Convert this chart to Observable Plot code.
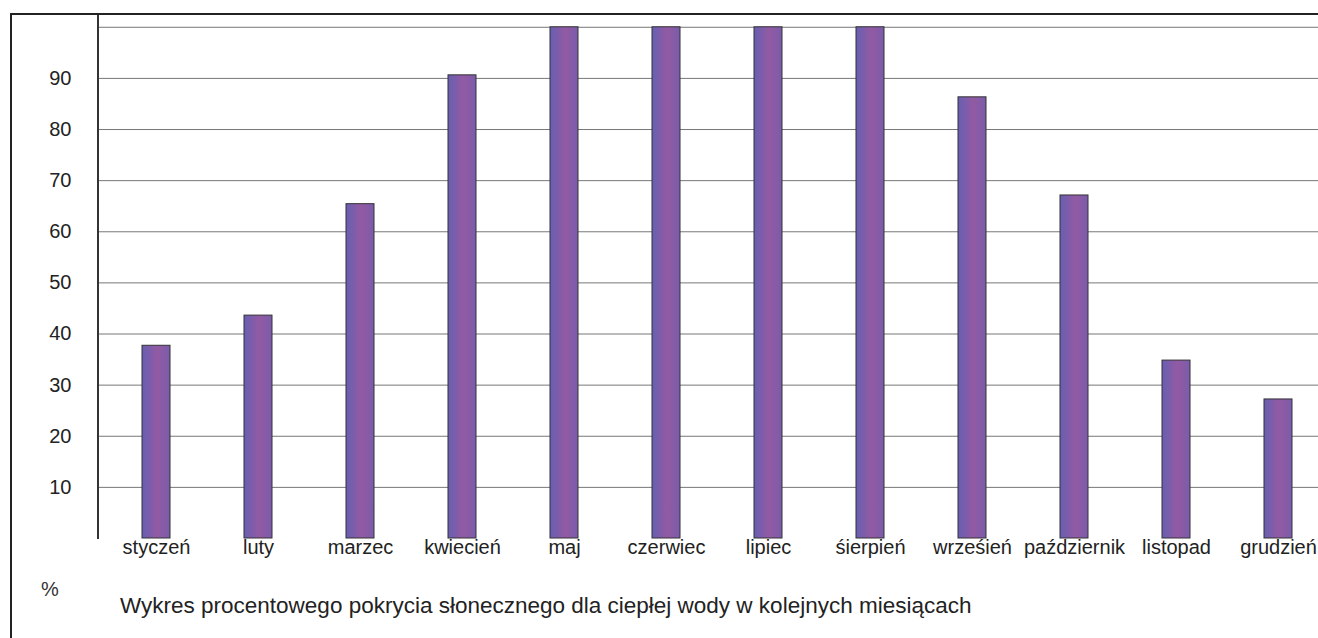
<!DOCTYPE html>
<html>
<head>
<meta charset="utf-8">
<script src="https://cdn.jsdelivr.net/npm/d3@7"></script>
<script src="https://cdn.jsdelivr.net/npm/@observablehq/plot@0.6"></script>
<style>
  html, body { margin: 0; padding: 0; background: #fff; }
  #wrap { position: relative; width: 1318px; height: 638px; overflow: hidden; font-family: "Liberation Sans", Arial, sans-serif; }
  #frameL { position: absolute; left: 10px; top: 14px; width: 2px; height: 624px; background: #222; }
  #frameT { position: absolute; left: 10px; top: 13px; width: 1308px; height: 2px; background: #222; }
  #pct { position: absolute; left: 41px; top: 578px; font-size: 20px; color: #333; }
  #title { position: absolute; left: 120px; top: 593px; font-size: 22.5px; color: #222; white-space: nowrap; }
  #chart svg text { font-size: 20px; fill: #222; }
</style>
</head>
<body>
<div id="wrap">
  <div id="chart"></div>
  <div id="frameL"></div>
  <div id="frameT"></div>
  <div id="pct">%</div>
  <div id="title">Wykres procentowego pokrycia słonecznego dla ciepłej wody w kolejnych miesiącach</div>
</div>
<script>
const months = ["styczeń", "luty", "marzec", "kwiecień", "maj", "czerwiec", "lipiec", "śierpień", "wrześień", "październik", "listopad", "grudzień"];
const values = [37.7, 43.6, 65.4, 90.6, 100, 100, 100, 100, 86.3, 67.1, 34.8, 27.2];
const gridTicks = [10, 20, 30, 40, 50, 60, 70, 80, 90, 100];
const labelTicks = [10, 20, 30, 40, 50, 60, 70, 80, 90];

const data = months.map((m, i) => ({month: m, value: values[i]}));

const chart = Plot.plot({
  width: 1318,
  height: 638,
  marginTop: 14,
  marginBottom: 100,
  marginLeft: 98,
  marginRight: 0,
  style: {fontFamily: "Liberation Sans, Arial, sans-serif", fontSize: "20px", color: "#222", background: "transparent"},
  x: {domain: months, range: [102, 1332], paddingInner: 0.73, paddingOuter: 0.365, label: null},
  y: {domain: [0, 102.5], label: null},
  marks: [
    () => {
      const svg = d3.create("svg:defs");
      const g = svg.append("linearGradient").attr("id", "barGrad").attr("x1", "0").attr("x2", "1").attr("y1", "0").attr("y2", "0");
      g.append("stop").attr("offset", "0%").attr("stop-color", "#675fb2");
      g.append("stop").attr("offset", "55%").attr("stop-color", "#935aa3");
      g.append("stop").attr("offset", "100%").attr("stop-color", "#7a5cab");
      return svg.node();
    },
    Plot.ruleY(gridTicks, {stroke: "#777", strokeWidth: 1}),
    Plot.barY(data, {x: "month", y: "value", fill: "url(#barGrad)", stroke: "#333", strokeWidth: 1}),
    Plot.ruleY([0], {stroke: "#444", strokeWidth: 1.5, x1: 95}),
    Plot.axisY(labelTicks, {tickSize: 0, tickPadding: 27, fontSize: 20, label: null}),
    Plot.axisX({tickSize: 0, tickPadding: 1, fontSize: 20, label: null}),
    () => {
      const l = d3.create("svg:line").attr("x1", 98).attr("x2", 98).attr("y1", 14).attr("y2", 539)
        .attr("stroke", "#333").attr("stroke-width", 2);
      return l.node();
    }
  ]
});
document.getElementById("chart").appendChild(chart);
</script>
</body>
</html>
